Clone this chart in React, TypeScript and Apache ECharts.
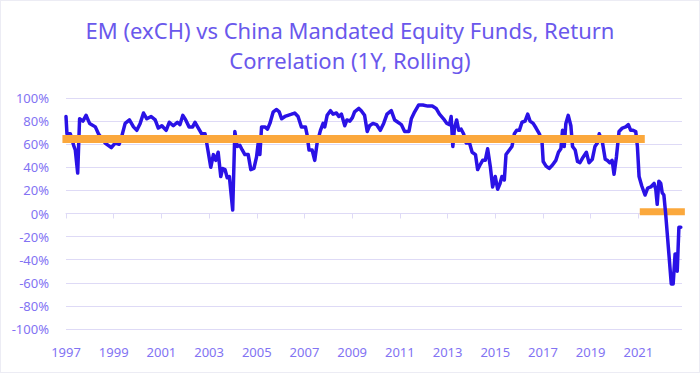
import React, { useEffect, useRef } from "react";
import * as echarts from "echarts";

const titleText = "EM (exCH) vs China Mandated Equity Funds, Return\nCorrelation (1Y, Rolling)";

const yearTicks = [1997, 1999, 2001, 2003, 2005, 2007, 2009, 2011, 2013, 2015, 2017, 2019, 2021];

const years = [
  1997.00,1997.04,1997.18,1997.32,1997.39,1997.49,1997.57,1997.71,1997.84,1997.99,
  1998.23,1998.36,1998.64,1998.90,1999.06,1999.23,1999.34,1999.48,1999.66,1999.83,
  1999.97,2000.11,2000.25,2000.39,2000.57,2000.74,2000.87,2001.02,2001.20,2001.33,
  2001.50,2001.67,2001.78,2001.90,2002.02,2002.16,2002.31,2002.41,2002.55,2002.69,
  2002.83,2002.90,2003.07,2003.18,2003.28,2003.38,2003.49,2003.57,2003.67,2003.76,
  2003.85,2003.99,2004.08,2004.18,2004.29,2004.39,2004.50,2004.64,2004.75,2004.88,
  2004.99,2005.06,2005.13,2005.20,2005.34,2005.45,2005.55,2005.69,2005.83,2005.94,
  2006.04,2006.18,2006.31,2006.46,2006.59,2006.73,2006.87,2007.04,2007.11,2007.19,
  2007.32,2007.43,2007.53,2007.67,2007.78,2007.85,2007.95,2008.09,2008.20,2008.34,
  2008.44,2008.55,2008.69,2008.78,2008.90,2009.01,2009.10,2009.28,2009.38,2009.52,
  2009.63,2009.73,2009.87,2010.02,2010.18,2010.32,2010.46,2010.64,2010.78,2010.92,
  2011.06,2011.20,2011.38,2011.48,2011.62,2011.79,2011.96,2012.17,2012.36,2012.52,
  2012.66,2012.83,2012.97,2013.08,2013.15,2013.22,2013.29,2013.38,2013.47,2013.57,
  2013.67,2013.78,2013.92,2014.03,2014.17,2014.26,2014.36,2014.47,2014.58,2014.68,
  2014.79,2014.89,2015.00,2015.10,2015.20,2015.28,2015.38,2015.45,2015.59,2015.70,
  2015.80,2015.90,2016.01,2016.12,2016.25,2016.36,2016.46,2016.59,2016.71,2016.85,
  2016.96,2017.01,2017.13,2017.26,2017.40,2017.54,2017.65,2017.75,2017.82,2017.89,
  2017.96,2018.06,2018.17,2018.24,2018.35,2018.45,2018.55,2018.69,2018.82,2018.93,
  2019.07,2019.18,2019.28,2019.36,2019.49,2019.61,2019.70,2019.80,2019.90,2019.98,
  2020.08,2020.19,2020.33,2020.47,2020.58,2020.68,2020.78,2020.89,2020.96,2021.03,
  2021.14,2021.28,2021.39,2021.52,2021.66,2021.73,2021.79,2021.86,2021.94,2022.00,
  2022.07,2022.14,2022.28,2022.38,2022.46,2022.54,2022.60,2022.63,2022.70,2022.78,
];

const correlation = [
  84,69,69,59,55,35,82,80,85,78,
  75,69,61,57,61,60,67,78,81,75,
  72,78,87,82,84,81,74,76,72,79,
  76,79,77,85,81,75,75,79,74,69,
  69,61,40,51,46,53,32,39,38,31,
  32,3,71,58,59,55,51,51,38,39,
  49,61,51,75,75,73,78,88,90,88,
  82,84,85,86,87,84,75,75,68,55,
  55,46,61,72,78,75,85,89,86,87,
  84,86,76,81,80,83,88,91,89,85,
  71,76,78,77,72,78,86,89,81,79,
  77,71,71,82,88,94,94,93,93,91,
  86,82,78,77,84,58,74,81,72,73,
  69,61,61,53,51,38,42,46,46,56,
  41,23,32,21,26,32,29,51,55,58,
  69,72,72,79,80,86,80,78,74,69,
  62,45,41,39,42,46,53,56,72,58,
  78,85,76,58,55,45,44,49,53,44,
  47,58,61,69,62,47,46,44,46,34,
  49,71,74,75,77,72,72,71,58,32,
  24,16,22,23,26,21,8,28,26,18,
  16,1,-35,-61,-61,-35,-35,-50,-12,-12,
];

// Orange regime bands: [startYear, endYear, level %]
const regime1 = [1996.85, 2021.27, 64.5];
const regime2 = [2021.06, 2022.95, 1.5];

const xMin = 1997;
const xMax = 2022.83;

const LABEL = "#8273F3";
const GRID = "#DEDAF6";

export default function App() {
  const ref = useRef<HTMLDivElement>(null);
  useEffect(() => {
    document.body.style.margin = "0";
    const chart = echarts.init(ref.current!, null, { renderer: "svg" });
    const lineData = years.map((y, i) => [y, correlation[i]]);
    chart.setOption({
      animation: false,
      backgroundColor: "#ffffff",
      textStyle: { fontFamily: "Noto Sans" },
      title: {
        text: titleText,
        left: "center",
        top: 9,
        textStyle: {
          fontSize: 22,
          lineHeight: 30,
          fontWeight: "normal",
          color: "#6A58EC",
          fontFamily: "Noto Sans",
        },
      },
      grid: { left: 65, right: 17, top: 97, bottom: 43, containLabel: false },
      xAxis: [
        {
          type: "value",
          min: xMin,
          max: xMax,
          position: "bottom",
          axisLine: { show: false, onZero: false },
          axisTick: { show: false },
          splitLine: { show: false },
          axisLabel: {
            customValues: yearTicks,
            color: LABEL,
            fontSize: 13,
            margin: 16,
            formatter: (v: number) => String(Math.round(v)),
          },
        },
        {
          type: "value",
          min: xMin,
          max: xMax,
          position: "bottom",
          axisLine: { show: true, onZero: true, lineStyle: { color: GRID, width: 1 } },
          axisTick: {
            show: true,
            customValues: yearTicks,
            length: 5,
            lineStyle: { color: GRID, width: 1 },
          },
          axisLabel: { show: false },
          splitLine: { show: false },
        },
      ],
      yAxis: {
        type: "value",
        min: -100,
        max: 100,
        interval: 20,
        axisLine: { show: false },
        axisTick: { show: false },
        axisLabel: {
          color: LABEL,
          fontSize: 13,
          margin: 17,
          formatter: (v: number) => `${v}%`,
        },
        splitLine: { lineStyle: { color: GRID, width: 1 } },
      },
      series: [
        {
          type: "line",
          data: [[regime2[0], regime2[2]], [regime2[1], regime2[2]]],
          showSymbol: false,
          clip: false,
          z: 1,
          lineStyle: { color: "#FBA83C", width: 7, cap: "butt" },
        },
        {
          type: "line",
          data: lineData,
          showSymbol: false,
          z: 2,
          lineStyle: { color: "#2A12E6", width: 3.5, join: "round", cap: "round" },
        },
        {
          type: "line",
          data: [[regime1[0], regime1[2]], [regime1[1], regime1[2]]],
          showSymbol: false,
          clip: false,
          z: 3,
          lineStyle: { color: "#FBA83C", width: 8, cap: "butt" },
        },
      ],
    });
    return () => chart.dispose();
  }, []);
  return (
    <div
      style={{
        position: "absolute",
        left: 0,
        top: 0,
        width: 700,
        height: 373,
        boxSizing: "border-box",
        border: "1px solid #ECECF4",
        overflow: "hidden",
      }}
    >
      <div ref={ref} style={{ width: 698, height: 371 }} />
    </div>
  );
}
